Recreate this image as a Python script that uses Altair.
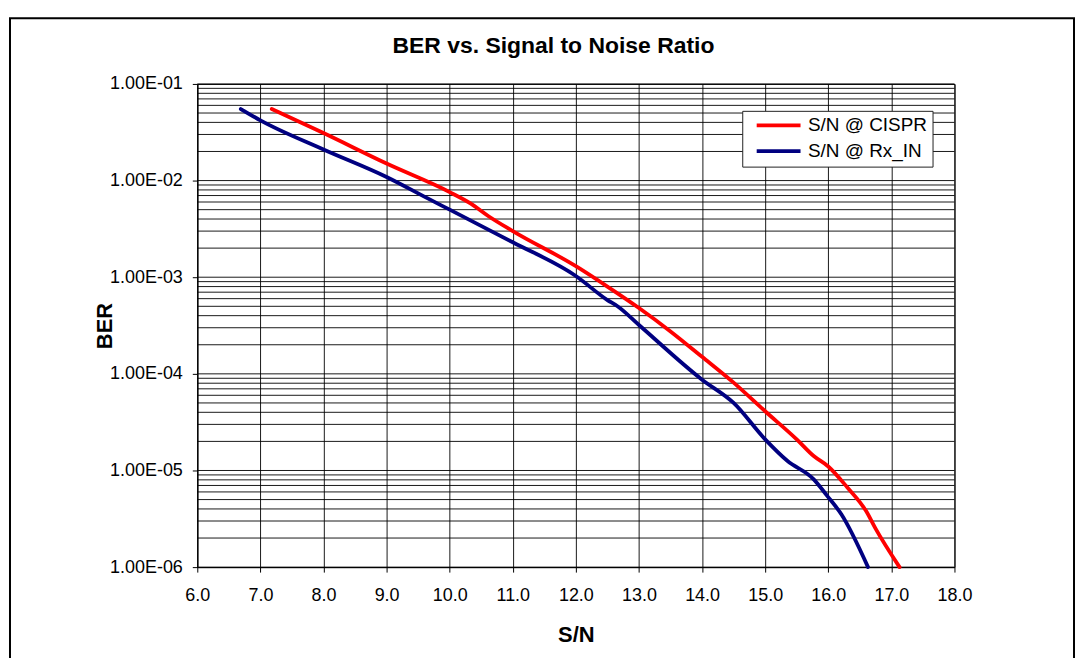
import altair as alt
import pandas as pd

# ---- data ----
series_names = ["S/N @ CISPR", "S/N @ Rx_IN"]
series_colors = ["#FF0000", "#000080"]

cispr_sn = [7.18, 8.0, 9.0, 10.0, 10.33, 10.61, 11.0, 12.0, 12.5, 13.0, 13.5, 14.0, 14.5,
            15.0, 15.5, 15.77, 16.0, 16.3, 16.6, 16.75, 17.13]
cispr_ber = [5.5e-2, 3.1e-2, 1.5e-2, 7.6e-3, 5.8e-3, 4.3e-3, 3.0e-3, 1.3e-3, 8.0e-4, 4.8e-4,
             2.75e-4, 1.5e-4, 8.1e-5, 4.1e-5, 2.1e-5, 1.41e-5, 1.1e-5, 6.7e-6, 3.8e-6, 2.5e-6, 1.0e-6]

rx_sn = [6.69, 7.0, 8.0, 9.0, 9.66, 10.0, 11.0, 12.0, 12.5, 12.66, 13.0, 14.0, 14.5,
         15.0, 15.35, 15.77, 15.98, 16.21, 16.63]
rx_ber = [5.5e-2, 4.2e-2, 2.1e-2, 1.09e-2, 6.5e-3, 5.0e-3, 2.3e-3, 1.03e-3, 5.8e-4,
          5.0e-4, 3.2e-4, 8.7e-5, 5.0e-5, 2.1e-5, 1.26e-5, 8.1e-6, 5.5e-6, 3.5e-6, 1.0e-6]

x_ticks = [6, 7, 8, 9, 10, 11, 12, 13, 14, 15, 16, 17, 18]
y_decades = [1e-6, 1e-5, 1e-4, 1e-3, 1e-2, 1e-1]
minor_mult = [1, 2, 3, 4, 5, 6, 7, 8, 9]

FONT = "Liberation Sans"

df = pd.concat([
    pd.DataFrame({"series": series_names[0], "sn": cispr_sn, "ber": cispr_ber, "i": range(len(cispr_sn))}),
    pd.DataFrame({"series": series_names[1], "sn": rx_sn, "ber": rx_ber, "i": range(len(rx_sn))}),
])

grid_vals = sorted({round(m * d, 12) for d in y_decades[:-1] for m in minor_mult} | {1e-1})
grid_df = pd.DataFrame({"g": grid_vals})

x_scale = alt.Scale(domain=[6, 18], nice=False, zero=False)
y_scale = alt.Scale(type="log", domain=[1e-6, 1e-1], nice=False)

y_axis = alt.Axis(values=y_decades, title="BER", grid=False, tickSize=5,
                  labelPadding=10, labelFlush=False,
                  labelExpr="'1.00E-0' + format(-round(log(datum.value)/LN10), 'd')",
                  titleBaseline="alphabetic", titleX=-86, titleY=242.5,
                  titleAngle=270)
x_axis = alt.Axis(values=x_ticks, format=".1f", title="S/N", grid=True,
                  gridColor="black", gridOpacity=0.9, tickSize=5,
                  labelPadding=15, labelFlush=False,
                  titleBaseline="alphabetic", titleY=75, titleX=380)

frame = alt.Chart(pd.DataFrame({"a": [0]})).mark_rect(
    filled=False, stroke="black", strokeWidth=2
).encode(
    x=alt.value(-188), x2=alt.value(880), y=alt.value(-66), y2=alt.value(700)
)

hgrid = alt.Chart(grid_df).mark_rule(color="black", strokeWidth=1, opacity=0.9).encode(
    y=alt.Y("g:Q", scale=y_scale, axis=y_axis)
)

lines = alt.Chart(df).mark_line(strokeWidth=3.8, strokeCap="round", strokeJoin="round",
                                interpolate="monotone").encode(
    x=alt.X("sn:Q", scale=x_scale, axis=x_axis),
    y=alt.Y("ber:Q", scale=y_scale, axis=y_axis),
    color=alt.Color("series:N",
                    scale=alt.Scale(domain=series_names, range=series_colors),
                    legend=alt.Legend(orient="none", legendX=547, legendY=27, title=None,
                                      direction="vertical",
                                      symbolType="M-4,0H4", symbolSize=121,
                                      symbolStrokeWidth=3.8, symbolOffset=22,
                                      labelOffset=20, labelFontSize=19, labelFont=FONT,
                                      labelColor="black", labelLimit=400,
                                      padding=5, rowPadding=6,
                                      strokeColor="#222222", fillColor="white")),
    order="i:Q",
)

chart = alt.layer(frame, hgrid, lines).properties(
    width=760,
    height=485,
    background="white",
    padding={"left": 190, "top": 75, "right": 122, "bottom": 90},
    autosize=alt.AutoSizeParams(type="none"),
    title=alt.TitleParams("BER vs. Signal to Noise Ratio", font=FONT, fontSize=23,
                          fontWeight="bold", anchor="middle", frame="group",
                          offset=-59, baseline="alphabetic", dx=-22.5, color="black"),
).configure_view(
    stroke="black", strokeWidth=1
).configure_axis(
    labelFont=FONT, labelFontSize=18, labelColor="black",
    titleFont=FONT, titleFontSize=22, titleFontWeight="bold", titleColor="black",
    domainColor="black", tickColor="black", domainWidth=1,
)

chart.save("out.html", embed_options={"renderer": "svg", "actions": False})
